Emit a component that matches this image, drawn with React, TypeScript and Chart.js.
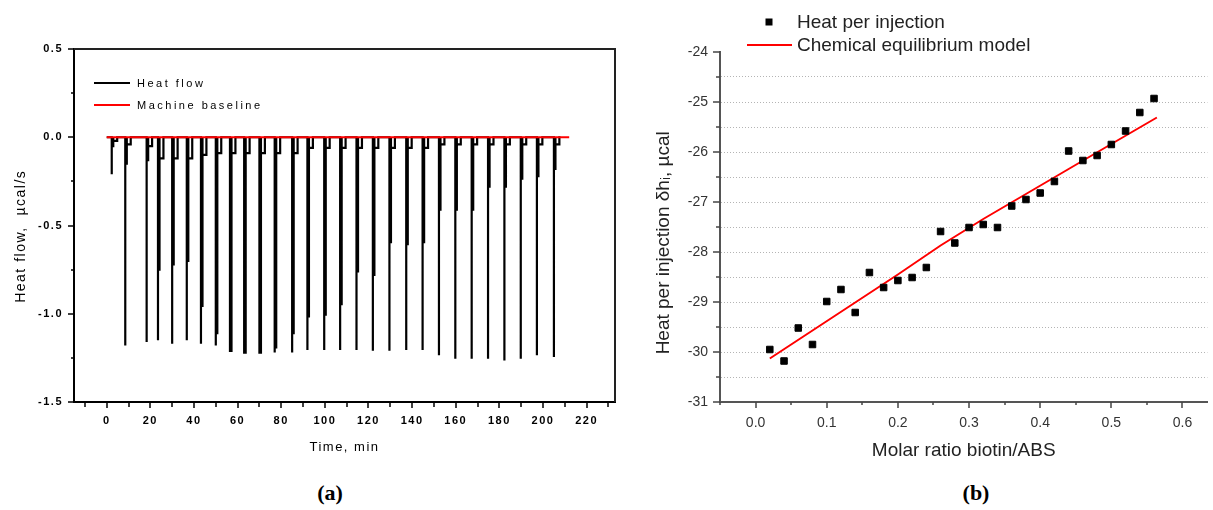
import React, { useEffect, useRef } from "react";
import { Chart, registerables } from "chart.js";

Chart.register(...registerables);

// ---------- Panel (a): ITC heat flow trace ----------
const injectionTimes = [2.3, 8.5, 18.3, 23.5, 30, 36.7, 43.2, 50, 56.5, 63, 70, 77, 85, 92, 99.7, 107, 114.5, 122, 129.6, 137.3, 144.8, 152.3, 159.8, 167.3, 174.8, 182.3, 189.8, 197.2, 205];
const peakHeatFlow = [-0.21, -1.18, -1.16, -1.15, -1.17, -1.15, -1.17, -1.18, -1.21, -1.22, -1.22, -1.22, -1.22, -1.205, -1.205, -1.205, -1.205, -1.21, -1.21, -1.205, -1.205, -1.235, -1.255, -1.255, -1.255, -1.265, -1.255, -1.235, -1.245];
const returnHeatFlow = [-0.05, -0.15, -0.13, -0.75, -0.72, -0.7, -0.955, -1.11, -1.21, -1.22, -1.22, -1.19, -1.11, -1.015, -1.005, -0.945, -0.76, -0.78, -0.595, -0.605, -0.595, -0.41, -0.41, -0.41, -0.28, -0.28, -0.235, -0.22, -0.18];
const notchHeatFlow = [-0.02, -0.04, -0.05, -0.12, -0.12, -0.12, -0.1, -0.09, -0.09, -0.09, -0.09, -0.09, -0.09, -0.06, -0.06, -0.06, -0.06, -0.06, -0.06, -0.06, -0.06, -0.04, -0.04, -0.04, -0.04, -0.04, -0.04, -0.04, -0.04];
const traceStartEnd = [0, 208];
const baselineTimes = [0, 212];
const baselineHeat = [0, 0];
const aXMajorTicks = [0, 20, 40, 60, 80, 100, 120, 140, 160, 180, 200, 220];
const aXMinorTicks = [-10, 10, 30, 50, 70, 90, 110, 130, 150, 170, 190, 210, 230];
const aYMajorTicks = [-1.5, -1.0, -0.5, 0.0, 0.5];
const aYMinorTicks = [-1.25, -0.75, -0.25, 0.25];

// ---------- Panel (b): heat per injection ----------
const molarRatio = [0.02, 0.04, 0.06, 0.08, 0.1, 0.12, 0.14, 0.16, 0.18, 0.2, 0.22, 0.24, 0.26, 0.28, 0.3, 0.32, 0.34, 0.36, 0.38, 0.4, 0.42, 0.44, 0.46, 0.48, 0.5, 0.52, 0.54, 0.56];
const heatPerInjection = [-29.95, -30.18, -29.52, -29.85, -28.99, -28.75, -29.21, -28.41, -28.71, -28.57, -28.51, -28.31, -27.59, -27.82, -27.51, -27.45, -27.51, -27.08, -26.95, -26.82, -26.59, -25.98, -26.17, -26.07, -25.85, -25.58, -25.21, -24.93];
const modelRatio = [0.02, 0.08, 0.14, 0.2, 0.26, 0.32, 0.38, 0.44, 0.5, 0.564];
const modelHeat = [-30.13, -29.57, -29.01, -28.45, -27.87, -27.34, -26.84, -26.34, -25.84, -25.31];
const bXMajorTicks = [0, 0.1, 0.2, 0.3, 0.4, 0.5, 0.6];
const bXMinorTicks = [-0.05, 0.05, 0.15, 0.25, 0.35, 0.45, 0.55];
const bYMajorTicks = [-31, -30, -29, -28, -27, -26, -25, -24];
const bYMinorTicks = [-30.5, -29.5, -28.5, -27.5, -26.5, -25.5, -24.5];

const SANS = "'Liberation Sans', Arial, Helvetica, sans-serif";
const RETURN_OFFSET = 0.7;
const NOTCH_WIDTH = 1.8;

function buildTrace() {
  const pts: { x: number; y: number }[] = [{ x: traceStartEnd[0], y: 0 }];
  injectionTimes.forEach((t, i) => {
    const r = t + RETURN_OFFSET;
    const n = r + NOTCH_WIDTH;
    pts.push(
      { x: t, y: 0 },
      { x: t, y: peakHeatFlow[i] },
      { x: t, y: returnHeatFlow[i] },
      { x: r, y: returnHeatFlow[i] },
      { x: r, y: 0 },
      { x: r, y: notchHeatFlow[i] },
      { x: n, y: notchHeatFlow[i] },
      { x: n, y: 0 }
    );
  });
  pts.push({ x: traceStartEnd[1], y: 0 });
  return pts;
}

const letterSpacingPlugin = {
  id: "letterSpacing",
  beforeUpdate(chart: any, _a: any, opts: any) {
    (chart.ctx as any).letterSpacing = opts.value || "0px";
  },
  beforeDraw(chart: any, _a: any, opts: any) {
    (chart.ctx as any).letterSpacing = opts.value || "0px";
  },
};

const axisTicksPlugin = {
  id: "axisTicks",
  afterDraw(chart: any, _a: any, opts: any) {
    const ctx = chart.ctx;
    const area = chart.chartArea;
    ctx.save();
    ctx.strokeStyle = opts.color;
    ctx.lineWidth = opts.width;
    (opts.axes || []).forEach((ax: any) => {
      const scale = chart.scales[ax.id];
      const draw = (vals: number[], len: number) => {
        vals.forEach((v) => {
          const p = Math.round(scale.getPixelForValue(v));
          ctx.beginPath();
          if (ax.id === "x") {
            ctx.moveTo(p, area.bottom);
            ctx.lineTo(p, area.bottom + len);
          } else {
            ctx.moveTo(area.left, p);
            ctx.lineTo(area.left - len, p);
          }
          ctx.stroke();
        });
      };
      draw(ax.major, ax.majorLen);
      draw(ax.minor, ax.minorLen);
    });
    ctx.restore();
  },
};

const framePlugin = {
  id: "frame",
  afterDraw(chart: any, _a: any, opts: any) {
    if (!opts || !opts.enabled) return;
    const ctx = chart.ctx;
    const { left, right, top, bottom } = chart.chartArea;
    ctx.save();
    ctx.strokeStyle = opts.color;
    ctx.lineWidth = opts.width;
    ctx.beginPath();
    ctx.moveTo(left, top);
    ctx.lineTo(right, top);
    ctx.lineTo(right, bottom);
    ctx.stroke();
    ctx.restore();
  },
};

const inlineLegendPlugin = {
  id: "inlineLegend",
  afterDraw(chart: any, _a: any, opts: any) {
    if (!opts || !opts.items) return;
    const ctx = chart.ctx;
    ctx.save();
    (ctx as any).letterSpacing = opts.letterSpacing || "0px";
    ctx.font = opts.font;
    ctx.textBaseline = "middle";
    ctx.textAlign = "left";
    opts.items.forEach((it: any) => {
      const ds = chart.data.datasets[it.dataset];
      if (it.kind === "line") {
        ctx.strokeStyle = ds.borderColor;
        ctx.lineWidth = it.lineWidth || ds.borderWidth;
        ctx.beginPath();
        ctx.moveTo(it.x0, it.y);
        ctx.lineTo(it.x1, it.y);
        ctx.stroke();
      } else {
        ctx.fillStyle = ds.backgroundColor;
        ctx.fillRect(it.cx - it.size / 2, it.y - it.size / 2, it.size, it.size);
      }
      ctx.fillStyle = opts.color;
      ctx.fillText(ds.label, it.textX, it.y + 1);
    });
    ctx.restore();
  },
};

function makeConfigA(): any {
  return {
    type: "line",
    data: {
      datasets: [
        {
          label: "Heat flow",
          data: buildTrace(),
          borderColor: "#000000",
          backgroundColor: "#000000",
          borderWidth: 2.2,
          pointRadius: 0,
          tension: 0,
          order: 1,
        },
        {
          label: "Machine baseline",
          data: baselineTimes.map((x, i) => ({ x, y: baselineHeat[i] })),
          borderColor: "#ff0000",
          backgroundColor: "#ff0000",
          borderWidth: 2,
          pointRadius: 0,
          order: 0,
        },
      ],
    },
    options: {
      animation: false,
      responsive: false,
      events: [],
      layout: { padding: { left: 0, top: 49, right: 15, bottom: 0 } },
      plugins: {
        legend: { display: false },
        tooltip: { enabled: false },
        letterSpacing: { value: "1.5px" },
        frame: { enabled: true, color: "#222", width: 2 },
        axisTicks: {
          color: "#000",
          width: 1.5,
          axes: [
            { id: "x", major: aXMajorTicks, minor: aXMinorTicks, majorLen: 6, minorLen: 5 },
            { id: "y", major: aYMajorTicks, minor: aYMinorTicks, majorLen: 6, minorLen: 3 },
          ],
        },
        inlineLegend: {
          font: `11px ${SANS}`,
          letterSpacing: "2.5px",
          color: "#000",
          items: [
            { dataset: 0, kind: "line", x0: 94, x1: 130, y: 83, textX: 137, lineWidth: 2 },
            { dataset: 1, kind: "line", x0: 94, x1: 130, y: 105, textX: 137, lineWidth: 2 },
          ],
        },
      },
      scales: {
        x: {
          type: "linear",
          min: -15,
          max: 233,
          afterFit: (s: any) => {
            s.height = 68;
          },
          afterBuildTicks: (s: any) => {
            s.ticks = aXMajorTicks.map((v) => ({ value: v }));
          },
          grid: { display: false, drawTicks: false },
          border: { display: true, color: "#000", width: 2 },
          ticks: {
            autoSkip: false,
            maxRotation: 0,
            padding: 12,
            color: "#000",
            font: { family: SANS, size: 11, weight: "bold" },
            callback: (v: any) => String(v),
          },
          title: {
            display: true,
            text: "Time, min",
            color: "#000",
            font: { family: SANS, size: 13 },
            padding: { top: 0, bottom: 15 },
          },
        },
        y: {
          type: "linear",
          min: -1.5,
          max: 0.5,
          afterFit: (s: any) => {
            s.width = 74;
          },
          afterBuildTicks: (s: any) => {
            s.ticks = aYMajorTicks.map((v) => ({ value: v }));
          },
          grid: { display: false, drawTicks: false },
          border: { display: true, color: "#000", width: 2 },
          ticks: {
            autoSkip: false,
            padding: 11,
            color: "#000",
            font: { family: SANS, size: 11, weight: "bold" },
            callback: (v: any) => Number(v).toFixed(1),
          },
          title: {
            display: true,
            text: "Heat flow,  \u00b5cal/s    ",
            color: "#000",
            font: { family: SANS, size: 14 },
            padding: { top: 13, bottom: 0 },
          },
        },
      },
    },
    plugins: [letterSpacingPlugin, framePlugin, axisTicksPlugin, inlineLegendPlugin],
  };
}

function makeConfigB(): any {
  return {
    type: "scatter",
    data: {
      datasets: [
        {
          label: "Heat per injection",
          data: molarRatio.map((x, i) => ({ x, y: heatPerInjection[i] })),
          pointStyle: "rect",
          pointRadius: 4.6,
          pointBorderWidth: 1,
          borderColor: "#000000",
          backgroundColor: "#000000",
          showLine: false,
        },
        {
          label: "Chemical equilibrium model",
          data: modelRatio.map((x, i) => ({ x, y: modelHeat[i] })),
          showLine: true,
          borderColor: "#ff0000",
          backgroundColor: "#ff0000",
          borderWidth: 2,
          pointRadius: 0,
          tension: 0,
        },
      ],
    },
    options: {
      animation: false,
      responsive: false,
      events: [],
      layout: { padding: { left: 0, top: 52, right: 1, bottom: 0 } },
      plugins: {
        legend: { display: false },
        tooltip: { enabled: false },
        axisTicks: {
          color: "#444",
          width: 1.5,
          axes: [
            { id: "x", major: bXMajorTicks, minor: bXMinorTicks, majorLen: 6, minorLen: 3 },
            { id: "y", major: bYMajorTicks, minor: bYMinorTicks, majorLen: 7, minorLen: 4 },
          ],
        },
        inlineLegend: {
          font: `19px ${SANS}`,
          color: "#222",
          items: [
            { dataset: 0, kind: "rect", cx: 139, size: 7, y: 22, textX: 167 },
            { dataset: 1, kind: "line", x0: 117, x1: 162, y: 45, textX: 167 },
          ],
        },
      },
      scales: {
        x: {
          type: "linear",
          min: -0.05,
          max: 0.635,
          afterFit: (s: any) => {
            s.height = 68;
          },
          afterBuildTicks: (s: any) => {
            s.ticks = bXMajorTicks.map((v) => ({ value: v }));
          },
          grid: { display: false, drawTicks: false },
          border: { display: true, color: "#555", width: 2 },
          ticks: {
            autoSkip: false,
            maxRotation: 0,
            padding: 13,
            color: "#333",
            font: { family: SANS, size: 14 },
            callback: (v: any) => Number(v).toFixed(1),
          },
          title: {
            display: true,
            text: "Molar ratio biotin/ABS",
            color: "#222",
            font: { family: SANS, size: 19 },
            padding: { top: 0, bottom: 8 },
          },
        },
        y: {
          type: "linear",
          min: -31,
          max: -24,
          afterFit: (s: any) => {
            s.width = 90;
          },
          afterBuildTicks: (s: any) => {
            s.ticks = [...bYMajorTicks, ...bYMinorTicks]
              .sort((a, b) => a - b)
              .map((v) => ({ value: v }));
          },
          grid: {
            display: true,
            drawTicks: false,
            lineWidth: 1,
            borderDash: [1, 2],
            color: (c: any) => {
              const v = c.tick ? c.tick.value : null;
              return v === -24 || v === -31 ? "rgba(0,0,0,0)" : "#b4b4b4";
            },
          },
          border: { display: true, color: "#555", width: 2, dash: [1, 2] },
          ticks: {
            autoSkip: false,
            padding: 12,
            color: "#333",
            font: { family: SANS, size: 14 },
            callback: (v: any) => (Number.isInteger(Number(v)) ? String(v) : ""),
          },
          title: {
            display: true,
            text: "Heat per injection \u03b4h\u1d62, \u00b5cal      ",
            color: "#222",
            font: { family: SANS, size: 19 },
            padding: { top: 22, bottom: 0 },
          },
        },
      },
    },
    plugins: [axisTicksPlugin, inlineLegendPlugin],
  };
}

export default function App() {
  const refA = useRef<HTMLCanvasElement | null>(null);
  const refB = useRef<HTMLCanvasElement | null>(null);

  useEffect(() => {
    const a = new Chart(refA.current as HTMLCanvasElement, makeConfigA());
    const b = new Chart(refB.current as HTMLCanvasElement, makeConfigB());
    return () => {
      a.destroy();
      b.destroy();
    };
  }, []);

  const panelLabel: React.CSSProperties = {
    position: "absolute",
    top: 481,
    fontFamily: "'Liberation Serif', 'Times New Roman', serif",
    fontWeight: "bold",
    fontSize: 22,
    lineHeight: "24px",
    color: "#000",
    transform: "translateX(-50%)",
    whiteSpace: "nowrap",
  };

  return (
    <div
      style={{
        position: "absolute",
        left: 0,
        top: 0,
        width: 1213,
        height: 510,
        overflow: "hidden",
        background: "#ffffff",
      }}
    >
      <div style={{ position: "absolute", left: 0, top: 0, width: 630, height: 470 }}>
        <canvas ref={refA} width={630} height={470} style={{ display: "block" }} />
      </div>
      <div style={{ position: "absolute", left: 630, top: 0, width: 583, height: 470 }}>
        <canvas ref={refB} width={583} height={470} style={{ display: "block" }} />
      </div>
      <div style={{ ...panelLabel, left: 330 }}>(a)</div>
      <div style={{ ...panelLabel, left: 976 }}>(b)</div>
    </div>
  );
}
